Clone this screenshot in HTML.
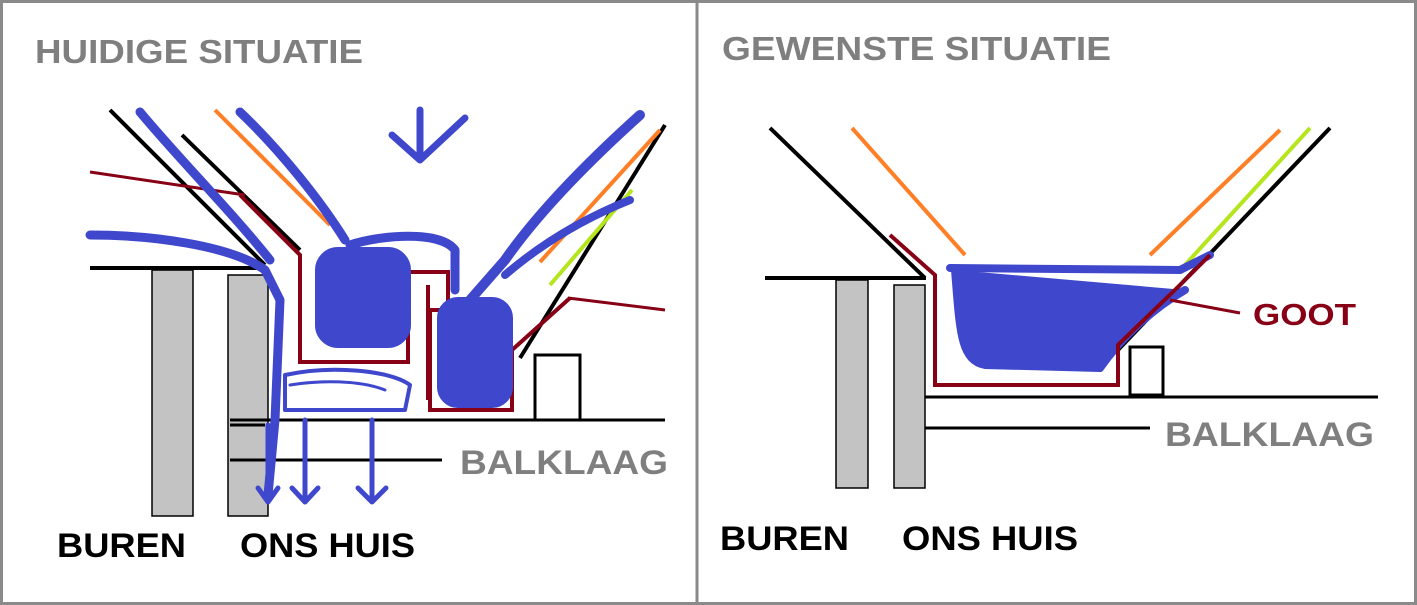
<!DOCTYPE html>
<html><head><style>
html,body{margin:0;padding:0;background:#fff;}
svg{display:block;}
text{font-family:"Liberation Sans",sans-serif;font-weight:bold;}
</style></head><body>
<svg width="1417" height="605" viewBox="0 0 1417 605" xmlns="http://www.w3.org/2000/svg">
<rect x="1.5" y="1.5" width="1414" height="602" fill="#fff" stroke="#8a8a8a" stroke-width="3"/>
<line x1="697" y1="0" x2="697" y2="605" stroke="#8a8a8a" stroke-width="3"/>

<!-- LEFT PANEL -->
<text x="35" y="63" font-size="33" fill="#7f7f7f" textLength="328" lengthAdjust="spacingAndGlyphs">HUIDIGE SITUATIE</text>
<rect x="152" y="270" width="41" height="246" fill="#c3c3c3" stroke="#000" stroke-width="1.5"/>
<rect x="228" y="275" width="40" height="241" fill="#c3c3c3" stroke="#000" stroke-width="1.5"/>
<line x1="90" y1="268" x2="266" y2="268" stroke="#000" stroke-width="4"/>
<line x1="110" y1="110" x2="265" y2="265" stroke="#000" stroke-width="4"/>
<line x1="182" y1="135" x2="300" y2="250" stroke="#000" stroke-width="4"/>
<line x1="230" y1="420" x2="665" y2="420" stroke="#000" stroke-width="3"/>
<line x1="230" y1="460" x2="442" y2="460" stroke="#000" stroke-width="3"/>
<line x1="230" y1="425" x2="265" y2="425" stroke="#000" stroke-width="3"/>
<line x1="665" y1="125" x2="520" y2="358" stroke="#000" stroke-width="4"/>
<rect x="535" y="355" width="45" height="65" fill="#fff" stroke="#000" stroke-width="3"/>
<line x1="215" y1="110" x2="330" y2="225" stroke="#ff7f27" stroke-width="4"/>
<line x1="660" y1="130" x2="540" y2="262" stroke="#ff7f27" stroke-width="4"/>
<line x1="632" y1="190" x2="550" y2="285" stroke="#b5e61d" stroke-width="4"/>
<line x1="90" y1="172" x2="245" y2="195" stroke="#880015" stroke-width="3"/>
<line x1="568" y1="298" x2="665" y2="310" stroke="#880015" stroke-width="3"/>
<polyline points="240,195 300,255 300,362 408,362 408,272 448,272 448,310 430,310 430,410 512,410 512,350 570,298" fill="none" stroke="#880015" stroke-width="4"/>
<polyline points="428,285 428,400" fill="none" stroke="#880015" stroke-width="4"/>
<g fill="none" stroke="#3f48cc" stroke-linecap="round" stroke-linejoin="round">
<path d="M90,235 C150,235 230,245 265,270 L280,300 L275,420 L268,495" stroke-width="9"/>
<path d="M140,112 C180,160 230,210 270,260" stroke-width="9"/>
<path d="M240,112 C280,150 320,200 345,240" stroke-width="9"/>
<path d="M640,115 C590,160 540,210 505,260 L470,300" stroke-width="10"/>
<path d="M630,200 C580,220 540,245 505,275" stroke-width="8"/>
<path d="M420,110 L420,160 M392,135 L420,160 L465,118" stroke-width="7"/>
<rect x="318" y="250" width="90" height="95" rx="20" fill="#3f48cc" stroke-width="6"/>
<rect x="440" y="300" width="70" height="105" rx="18" fill="#3f48cc" stroke-width="6"/>
<path d="M350,245 C380,235 440,230 455,250 L455,290" stroke-width="9"/>
<path d="M285,375 C330,365 390,370 410,385 L405,410 L285,410 Z" stroke-width="4"/>
<path d="M290,385 C320,380 360,380 385,390" stroke-width="3"/>
<path d="M305,420 L305,500 M292,488 L305,502 L318,488" stroke-width="5"/>
<path d="M372,420 L372,500 M358,488 L372,502 L386,488" stroke-width="5"/>
<path d="M268,425 L268,500 M258,488 L268,502 L278,488" stroke-width="5"/>
</g>
<text x="460" y="474" font-size="34" fill="#7f7f7f" textLength="208" lengthAdjust="spacingAndGlyphs">BALKLAAG</text>
<text x="57" y="557" font-size="34" fill="#000" textLength="129" lengthAdjust="spacingAndGlyphs">BUREN</text>
<text x="240" y="557" font-size="34" fill="#000" textLength="175" lengthAdjust="spacingAndGlyphs">ONS HUIS</text>

<!-- RIGHT PANEL -->
<text x="722" y="60" font-size="33" fill="#7f7f7f" textLength="389" lengthAdjust="spacingAndGlyphs">GEWENSTE SITUATIE</text>
<rect x="836" y="280" width="32" height="208" fill="#c3c3c3" stroke="#000" stroke-width="1.5"/>
<rect x="894" y="285" width="31" height="203" fill="#c3c3c3" stroke="#000" stroke-width="1.5"/>
<line x1="765" y1="278" x2="926" y2="278" stroke="#000" stroke-width="4"/>
<line x1="770" y1="128" x2="925" y2="278" stroke="#000" stroke-width="4"/>
<line x1="925" y1="397" x2="1378" y2="397" stroke="#000" stroke-width="3"/>
<line x1="925" y1="428" x2="1150" y2="428" stroke="#000" stroke-width="3"/>
<line x1="1330" y1="128" x2="1118" y2="350" stroke="#000" stroke-width="4"/>
<rect x="1130" y="347" width="33" height="48" fill="#fff" stroke="#000" stroke-width="3"/>
<line x1="852" y1="128" x2="965" y2="255" stroke="#ff7f27" stroke-width="4"/>
<line x1="1280" y1="130" x2="1150" y2="255" stroke="#ff7f27" stroke-width="4"/>
<line x1="1310" y1="128" x2="1185" y2="265" stroke="#b5e61d" stroke-width="4"/>
<g fill="none" stroke="#3f48cc" stroke-linecap="round" stroke-linejoin="round">
<path d="M950,268 L1180,270 L1200,260 L1210,255" stroke-width="8"/>
<path d="M955,270 C960,330 960,360 985,365 L1100,368 C1120,340 1150,310 1185,290" fill="#3f48cc" stroke-width="8"/>
</g>
<polyline points="890,235 935,275 935,385 1118,385 1118,345 1180,285 1210,255" fill="none" stroke="#880015" stroke-width="4"/>
<line x1="1170" y1="300" x2="1240" y2="313" stroke="#880015" stroke-width="3"/>
<text x="1253" y="325" font-size="31" fill="#880015" textLength="103" lengthAdjust="spacingAndGlyphs">GOOT</text>
<text x="1165" y="446" font-size="34" fill="#7f7f7f" textLength="209" lengthAdjust="spacingAndGlyphs">BALKLAAG</text>
<text x="720" y="550" font-size="34" fill="#000" textLength="129" lengthAdjust="spacingAndGlyphs">BUREN</text>
<text x="902" y="550" font-size="34" fill="#000" textLength="176" lengthAdjust="spacingAndGlyphs">ONS HUIS</text>
</svg>
</body></html>
